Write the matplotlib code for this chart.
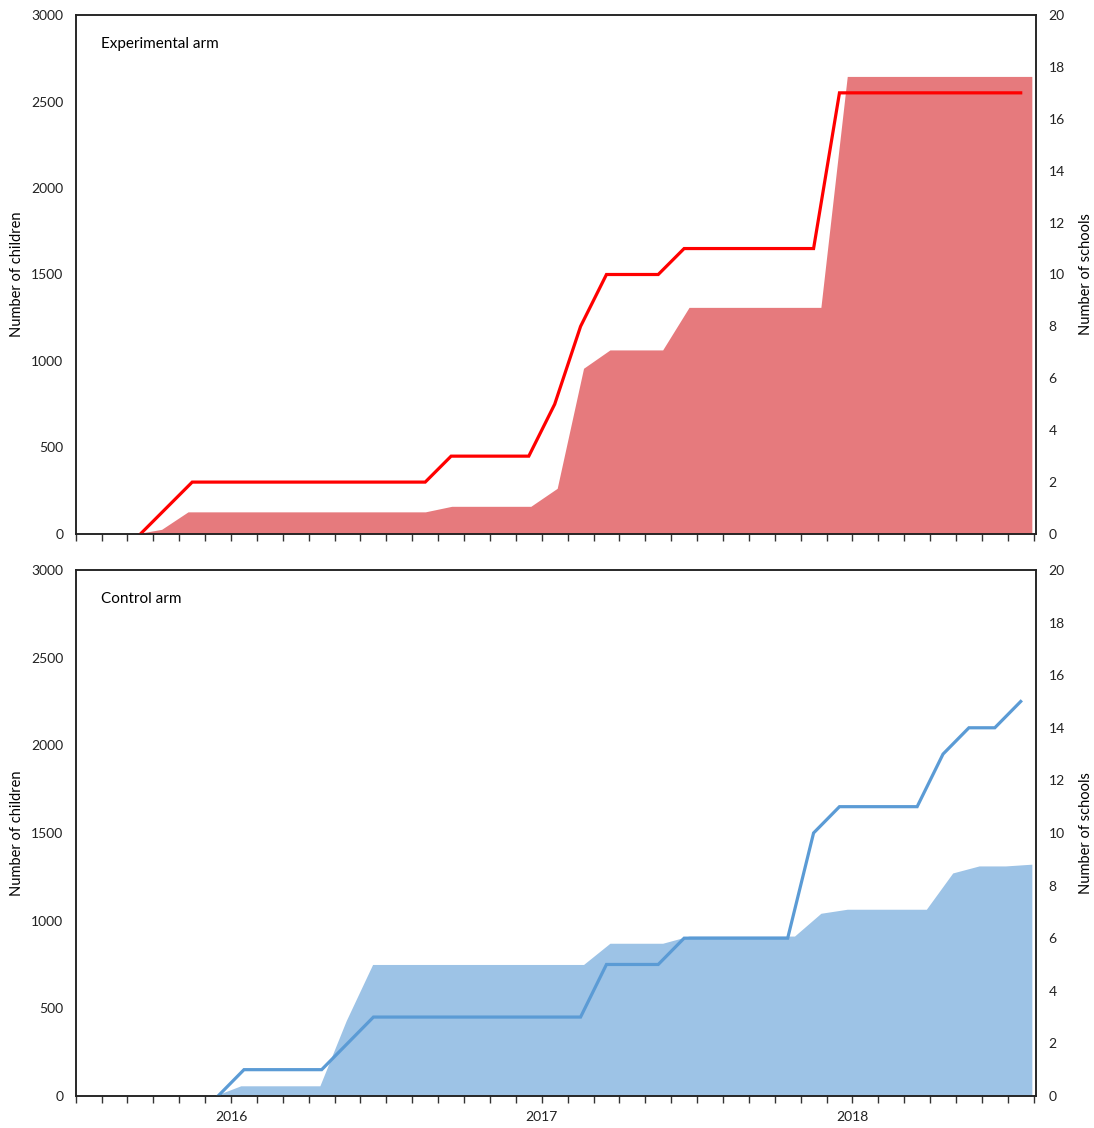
import numpy as np
import matplotlib
matplotlib.use("Agg")
import matplotlib.pyplot as plt

nan = np.nan

# monthly categories, Jul 2015 .. Jul 2018
months = [f"{y}-{m:02d}" for y in range(2015, 2019) for m in range(1, 13)][6:43]
year_ticks = [6, 18, 30]
year_labels = ["2016", "2017", "2018"]

# Experimental arm
exp_schools = [nan, nan, 0, 1] + [2] * 10 + [3] * 4 + [5, 8] + [10] * 3 + [11] * 6 + [17] * 8
exp_children = [0, 0, 0, 27] + [128] * 10 + [160] * 4 + [264, 958] + [1064] * 3 + [1310] * 6 + [2645] * 8

# Control arm
ctl_schools = [nan] * 5 + [0] + [1] * 4 + [2] + [3] * 9 + [5] * 3 + [6] * 5 + [10] + [11] * 4 + [13, 14, 14, 15]
ctl_children = [0] * 6 + [58] * 4 + [430] + [750] * 9 + [871] * 3 + [912] * 5 + [1042] + [1065] * 4 + [1272, 1312, 1312, 1322]

plt.rcParams['font.family'] = ['Lato', 'DejaVu Sans']
plt.rcParams['font.size'] = 10

fig = plt.figure(figsize=(10.94, 11.28), dpi=100)

n = len(months)
x_line = np.arange(n) + 0.5
x_area = np.linspace(0.264, 36.93, n)  # area series sits on a slightly wider category scale


def draw_panel(rect, children, schools, line_col, area_col, title, show_years):
    ax = fig.add_axes(rect)
    ax.fill_between(x_area, 0, children, color=area_col, lw=0)
    ax.set_xlim(0, 37.1)
    ax.set_ylim(0, 3000)
    ax.set_yticks(range(0, 3001, 500))
    ticks = list(range(0, 38))
    labels = [''] * len(ticks)
    if show_years:
        for t, lab in zip(year_ticks, year_labels):
            labels[t] = lab
    ax.set_xticks(ticks)
    ax.set_xticklabels(labels)
    ax.tick_params(axis='x', direction='out', length=5, width=1, color='#333333',
                   pad=6, labelcolor='#222222')
    ax.tick_params(axis='y', length=0, pad=9, labelcolor='#222222')
    ax.set_ylabel("Number of children", fontsize=10.5, labelpad=5)
    for s in ax.spines.values():
        s.set_color('#222222')
        s.set_linewidth(1.1)
    ax.text(0.026, 0.945, title, transform=ax.transAxes, fontsize=11, va='center')

    ax2 = ax.twinx()
    ax2.plot(x_line, schools, color=line_col, lw=2.3, solid_joinstyle='miter')
    ax2.set_ylim(0, 20)
    ax2.set_yticks(range(0, 21, 2))
    ax2.tick_params(axis='y', length=0, pad=9, labelcolor='#222222')
    ax2.set_ylabel("Number of schools", fontsize=10.5, labelpad=10)
    for s in ax2.spines.values():
        s.set_color('#222222')
        s.set_linewidth(1.1)
    return ax, ax2


draw_panel([0.0692, 0.5266, 0.878, 0.4601], exp_children, exp_schools,
           '#FF0000', '#E67A7D', "Experimental arm", False)
draw_panel([0.0692, 0.0284, 0.878, 0.4663], ctl_children, ctl_schools,
           '#5B9BD5', '#9DC3E6', "Control arm", True)

fig.savefig("out.png", dpi=100)
